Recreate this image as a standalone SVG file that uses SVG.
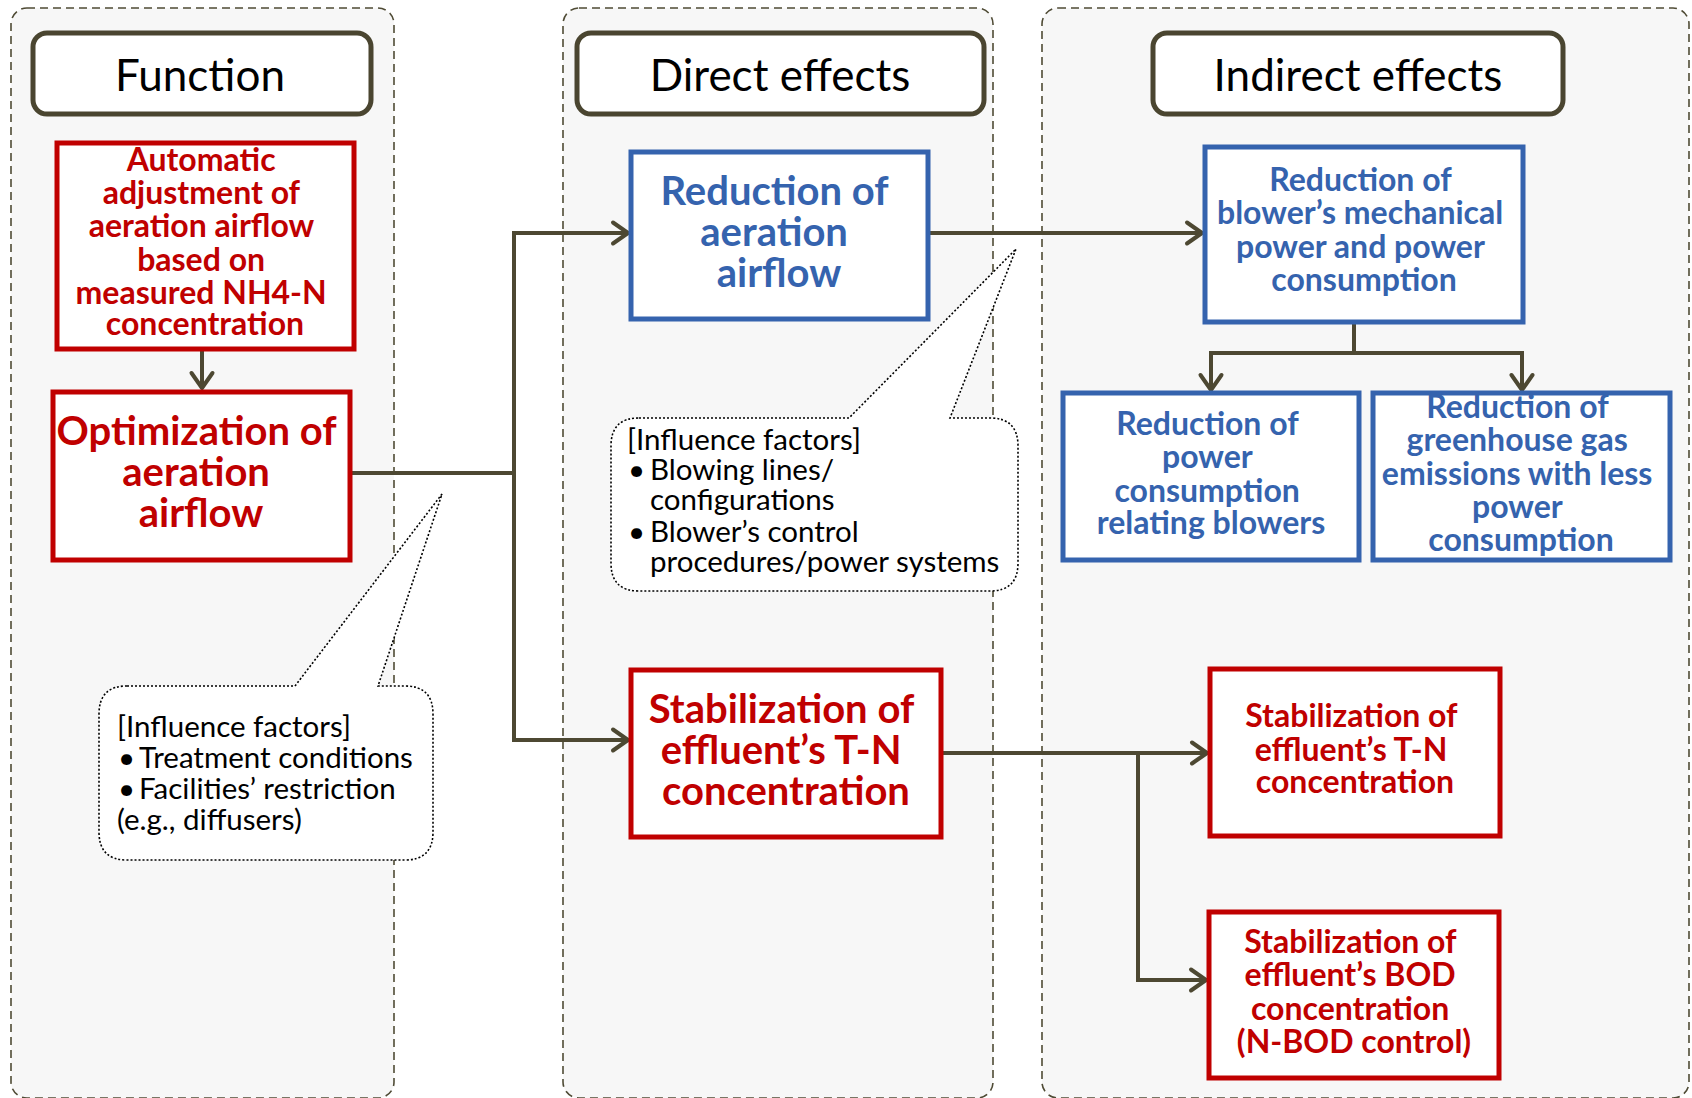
<svg xmlns="http://www.w3.org/2000/svg" width="1692" height="1098" viewBox="0 0 1692 1098">
  <style>
    .panel { fill: #f7f7f7; stroke: #4f4b35; stroke-width: 1.6; stroke-dasharray: 8 5; }
    .hdr { fill: #ffffff; stroke: #4a4530; stroke-width: 5; }
    .hdrt { font-family: Lato, "Open Sans", "Liberation Sans", sans-serif; font-size: 44px; fill: #000; text-anchor: middle; }
    .rbox { fill: #ffffff; stroke: #c00000; stroke-width: 5; }
    .bbox { fill: #ffffff; stroke: #3563ae; stroke-width: 5; }
    .t { font-family: Lato, "Open Sans", "Liberation Sans", sans-serif; font-weight: bold; text-anchor: middle; }
    .red { fill: #c00000; }
    .blue { fill: #3563ae; }
    .big { font-size: 40px; }
    .mid { font-size: 32px; }
    .conn { fill: none; stroke: #4d4832; stroke-width: 4; }
    .callout { fill: #ffffff; stroke: #000; stroke-width: 1.6; stroke-dasharray: 2 2; }
    .ct { font-family: Lato, "Open Sans", "Liberation Sans", sans-serif; font-size: 29.5px; fill: #000; }
  </style>
  <defs>
    <marker id="arrow" markerUnits="userSpaceOnUse" markerWidth="24" markerHeight="30" refX="17" refY="13.5" orient="auto" overflow="visible">
      <path d="M2,3 L17,13.5 L2,24" fill="none" stroke="#4d4832" stroke-width="4" stroke-linecap="round" stroke-linejoin="round"/>
    </marker>
  </defs>

  <!-- column panels -->
  <g id="panels">
    <rect class="panel" x="11" y="8" width="383" height="1090" rx="16"/>
    <rect class="panel" x="563" y="8" width="430" height="1090" rx="16"/>
    <rect class="panel" x="1042" y="8" width="647" height="1090" rx="16"/>
  </g>

  <!-- column headers -->
  <g id="hdr-function">
    <rect class="hdr" x="33" y="33" width="338" height="81" rx="14"/>
    <text class="hdrt" x="200" y="91">Function</text>
  </g>
  <g id="hdr-direct">
    <rect class="hdr" x="577" y="33" width="407" height="81" rx="14"/>
    <text class="hdrt" x="780" y="91">Direct effects</text>
  </g>
  <g id="hdr-indirect">
    <rect class="hdr" x="1153" y="33" width="410" height="81" rx="14"/>
    <text class="hdrt" x="1358" y="91">Indirect effects</text>
  </g>

  <!-- callouts -->
  <g id="callout-function">
    <path class="callout" d="M127,686 H295 L442,494 L378,686 H405 Q433,686 433,714 V832 Q433,860 405,860 H127 Q99,860 99,832 V714 Q99,686 127,686 Z"/>
    <text class="ct" x="117" y="737">[Influence factors]</text>
    <text class="ct" x="118" y="768">•</text>
    <text class="ct" x="139" y="768">Treatment conditions</text>
    <text class="ct" x="118" y="799">•</text>
    <text class="ct" x="139" y="799">Facilities’ restriction</text>
    <text class="ct" x="117" y="830">(e.g., diffusers)</text>
  </g>
  <g id="callout-direct">
    <path class="callout" d="M639,418 H849 L1016,249 L950,418 H990 Q1018,418 1018,446 V563 Q1018,591 990,591 H639 Q611,591 611,563 V446 Q611,418 639,418 Z"/>
    <text class="ct" x="627" y="450">[Influence factors]</text>
    <text class="ct" x="628" y="480">•</text>
    <text class="ct" x="650" y="480">Blowing lines/</text>
    <text class="ct" x="650" y="510">configurations</text>
    <text class="ct" x="628" y="542">•</text>
    <text class="ct" x="650" y="542">Blower’s control</text>
    <text class="ct" x="650" y="572">procedures/power systems</text>
  </g>

  <!-- connectors -->
  <g id="connectors">
    <path class="conn" d="M202,350 V388" marker-end="url(#arrow)"/>
    <path class="conn" d="M350,473 H514"/>
    <path class="conn" d="M514,473 V233 H628" marker-end="url(#arrow)"/>
    <path class="conn" d="M514,473 V740 H628" marker-end="url(#arrow)"/>
    <path class="conn" d="M928,233 H1202" marker-end="url(#arrow)"/>
    <path class="conn" d="M1354,322 V353"/>
    <path class="conn" d="M1354,353 H1211 V390" marker-end="url(#arrow)"/>
    <path class="conn" d="M1354,353 H1522 V390" marker-end="url(#arrow)"/>
    <path class="conn" d="M941,753 H1207" marker-end="url(#arrow)"/>
    <path class="conn" d="M1138,753 V980 H1206" marker-end="url(#arrow)"/>
  </g>

  <!-- function column -->
  <g id="auto-adjust">
    <rect class="rbox" x="57" y="143" width="297" height="206"/>
    <text class="t red mid">
      <tspan x="205" y="171">Automatic</tspan>
      <tspan x="205" y="204">adjustment of</tspan>
      <tspan x="205" y="237">aeration airflow</tspan>
      <tspan x="205" y="271">based on</tspan>
      <tspan x="205" y="304">measured NH4-N</tspan>
      <tspan x="205" y="335">concentration</tspan>
    </text>
  </g>
  <g id="optimization">
    <rect class="rbox" x="53" y="392" width="297" height="168"/>
    <text class="t red big">
      <tspan x="201" y="445">Optimization of</tspan>
      <tspan x="201" y="486">aeration</tspan>
      <tspan x="201" y="527">airflow</tspan>
    </text>
  </g>

  <!-- direct effects column -->
  <g id="reduce-airflow">
    <rect class="bbox" x="631" y="152" width="297" height="167"/>
    <text class="t blue big">
      <tspan x="779" y="205">Reduction of</tspan>
      <tspan x="779" y="246">aeration</tspan>
      <tspan x="779" y="287">airflow</tspan>
    </text>
  </g>
  <g id="stabilize-tn-direct">
    <rect class="rbox" x="631" y="670" width="310" height="167"/>
    <text class="t red big">
      <tspan x="786" y="723">Stabilization of</tspan>
      <tspan x="786" y="764">effluent’s T-N</tspan>
      <tspan x="786" y="805">concentration</tspan>
    </text>
  </g>

  <!-- indirect effects column -->
  <g id="reduce-blower-power">
    <rect class="bbox" x="1205" y="147" width="318" height="175"/>
    <text class="t blue mid">
      <tspan x="1364" y="191">Reduction of</tspan>
      <tspan x="1364" y="224">blower’s mechanical</tspan>
      <tspan x="1364" y="258">power and power</tspan>
      <tspan x="1364" y="291">consumption</tspan>
    </text>
  </g>
  <g id="reduce-power-consumption">
    <rect class="bbox" x="1063" y="393" width="296" height="167"/>
    <text class="t blue mid">
      <tspan x="1211" y="435">Reduction of</tspan>
      <tspan x="1211" y="468">power</tspan>
      <tspan x="1211" y="502">consumption</tspan>
      <tspan x="1211" y="534">relating blowers</tspan>
    </text>
  </g>
  <g id="reduce-ghg">
    <rect class="bbox" x="1373" y="393" width="297" height="167"/>
    <text class="t blue mid">
      <tspan x="1521" y="418">Reduction of</tspan>
      <tspan x="1521" y="451">greenhouse gas</tspan>
      <tspan x="1521" y="485">emissions with less</tspan>
      <tspan x="1521" y="518">power</tspan>
      <tspan x="1521" y="551">consumption</tspan>
    </text>
  </g>
  <g id="stabilize-tn-indirect">
    <rect class="rbox" x="1210" y="669" width="290" height="167"/>
    <text class="t red mid">
      <tspan x="1355" y="727">Stabilization of</tspan>
      <tspan x="1355" y="761">effluent’s T-N</tspan>
      <tspan x="1355" y="793">concentration</tspan>
    </text>
  </g>
  <g id="stabilize-bod">
    <rect class="rbox" x="1209" y="912" width="290" height="166"/>
    <text class="t red mid">
      <tspan x="1354" y="953">Stabilization of</tspan>
      <tspan x="1354" y="986">effluent’s BOD</tspan>
      <tspan x="1354" y="1020">concentration</tspan>
      <tspan x="1354" y="1053">(N-BOD control)</tspan>
    </text>
  </g>
</svg>
